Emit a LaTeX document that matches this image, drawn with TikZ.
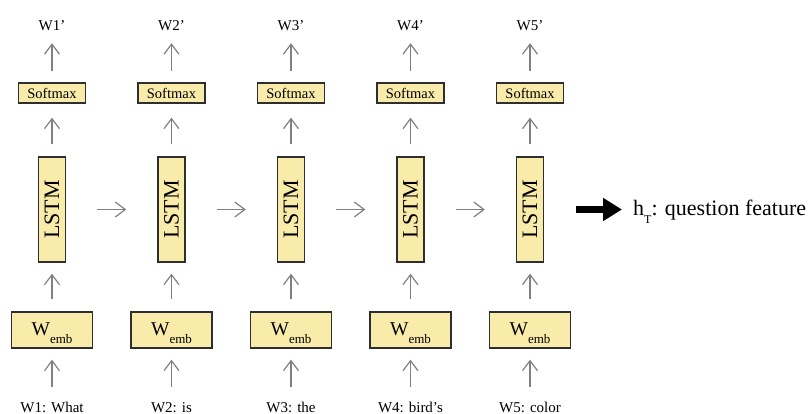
\documentclass[tikz,border=0pt]{standalone}
\usepackage{fontspec}
\setmainfont{Liberation Serif}
\usetikzlibrary{arrows.meta}
\definecolor{boxfill}{HTML}{F9EBAA}
\definecolor{boxline}{HTML}{2E2E2E}
\definecolor{arrowgray}{HTML}{808080}
\tikzset{
  box/.style={draw=boxline, fill=boxfill, line width=1.4pt, inner sep=0pt},
  smbox/.style={box, minimum width=67pt, minimum height=20pt, font=\fontsize{14.5}{14.5}\selectfont},
  lstmbox/.style={box, minimum width=27pt, minimum height=105pt, font=\fontsize{22}{22}\selectfont},
  embbox/.style={box, minimum width=81pt, minimum height=36pt, text height=18pt, text depth=8pt,
    font=\fontsize{19.5}{19.5}\selectfont},
  word/.style={inner sep=0pt, text height=11pt, text depth=3pt, font=\fontsize{15}{15}\selectfont},
  flow/.style={draw=arrowgray, line width=1.2pt, -{Straight Barb[length=10pt,width=15pt]}},
  bigflow/.style={draw=black, line width=7pt, -{Triangle[length=19pt,width=22pt]}},
}
\begin{document}
\begin{tikzpicture}[x=1pt, y=-1pt]
  \useasboundingbox (0,0) rectangle (811,414);

  % one column per time step: word -> embedding -> LSTM -> softmax -> predicted word
  \foreach \i/\w in {1/What, 2/is, 3/the, 4/bird's, 5/color} {
    \pgfmathsetmacro{\cx}{52+119.5*(\i-1)}
    \node[word, anchor=base] (top\i) at (\cx,31) {W\i'};
    \node[smbox] (s\i) at (\cx,93) {Softmax};
    \node[lstmbox] (l\i) at (\cx,209.5) {\rotatebox{90}{LSTM}};
    \node[embbox] (e\i) at (\cx,330) {W\raisebox{-8pt}{\fontsize{13}{13}\selectfont emb}};
    \node[word, anchor=base] (bot\i) at (\cx,412) {W\i: \w};

    \draw[flow, shorten <=11pt, shorten >=9pt] (s\i) -- (top\i);
    \draw[flow, shorten <=12pt, shorten >=14pt] (l\i) -- (s\i);
    \draw[flow, shorten <=12pt, shorten >=11pt] (e\i) -- (l\i);
    \draw[flow, shorten <=14pt, shorten >=11pt] (bot\i) -- (e\i);
  }

  % recurrent connections between consecutive LSTM cells
  \foreach \i/\j in {1/2, 2/3, 3/4, 4/5}
    \draw[flow, shorten <=31pt, shorten >=31pt] (l\i.east) -- (l\j.west);

  % final hidden state
  \node[anchor=base west, inner sep=0pt, font=\fontsize{22}{22}\selectfont] (feat) at (633,215)
    {h\raisebox{-8pt}{\fontsize{12}{12}\selectfont T}: question feature};
  \draw[bigflow, shorten <=32pt, shorten >=11pt] (l5.east) -- (l5.east -| feat.west);
\end{tikzpicture}
\end{document}
